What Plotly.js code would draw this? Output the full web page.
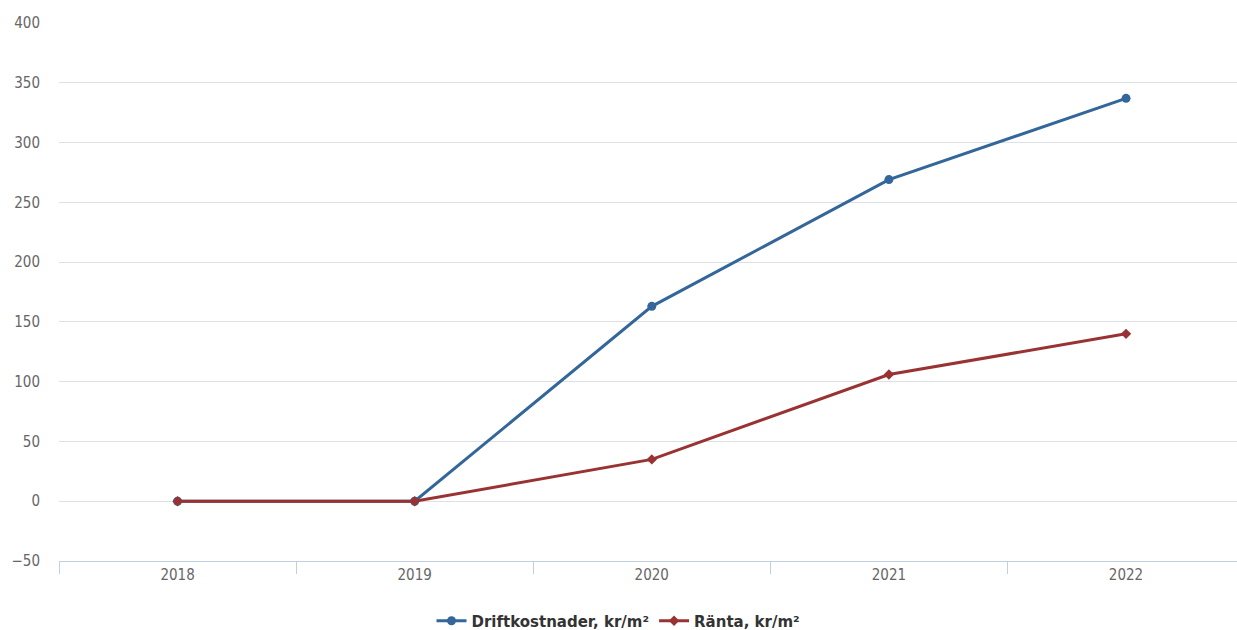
<!DOCTYPE html>
<html>
<head>
<meta charset="utf-8">
<script src="https://cdn.plot.ly/plotly-3.0.1.min.js"></script>
<style>html,body{margin:0;padding:0;background:#fff;}#chart{width:1237px;height:630px;}</style>
</head>
<body>
<div id="chart"></div>
<script>
const years = ["2018", "2019", "2020", "2021", "2022"];
const driftkostnader = [0, 0, 163, 269, 337];
const ranta = [0, 0, 35, 106, 140];
const seriesNames = ["Driftkostnader, kr/m²", "Ränta, kr/m²"];

const traces = [
  {
    x: years, y: driftkostnader, name: seriesNames[0], type: "scatter", mode: "lines+markers",
    line: {color: "#336699", width: 3}, marker: {symbol: "circle", size: 9, color: "#336699"}
  },
  {
    x: years, y: ranta, name: seriesNames[1], type: "scatter", mode: "lines+markers",
    line: {color: "#993333", width: 3}, marker: {symbol: "diamond", size: 8, color: "#993333"}
  }
];

const layout = {
  width: 1237, height: 630,
  margin: {l: 59, r: 0, t: 23, b: 69},
  paper_bgcolor: "#fff", plot_bgcolor: "#fff",
  font: {family: "DejaVu Sans Condensed, DejaVu Sans, Verdana, sans-serif", size: 15, color: "#666"},
  showlegend: true,
  legend: {orientation: "h", x: 0.5, xanchor: "center", xref: "container",
    y: 0.0143, yanchor: "middle", yref: "container",
    font: {family: "DejaVu Sans, Verdana, sans-serif", size: 15, color: "#333", weight: "bold"},
    itemwidth: 30, tracegroupgap: 0},
  xaxis: {
    type: "category", range: [-0.5, 4.468], tickson: "boundaries",
    ticks: "outside", ticklen: 12, tickcolor: "#c0d0e0", tickwidth: 1,
    showline: true, linecolor: "#c0d0e0", linewidth: 1,
    showgrid: false, zeroline: false, fixedrange: true,
    tickfont: {size: 15, color: "#666"}
  },
  yaxis: {
    range: [-50, 400], dtick: 50, tick0: 0,
    showgrid: true, gridcolor: "#dde1e6", gridwidth: 1,
    zeroline: false, showline: false, ticks: "",
    ticklabelstandoff: 18,
    tickfont: {size: 15, color: "#666"}
  }
};

Plotly.newPlot("chart", traces, layout, {displayModeBar: false, staticPlot: true});
</script>
</body>
</html>
